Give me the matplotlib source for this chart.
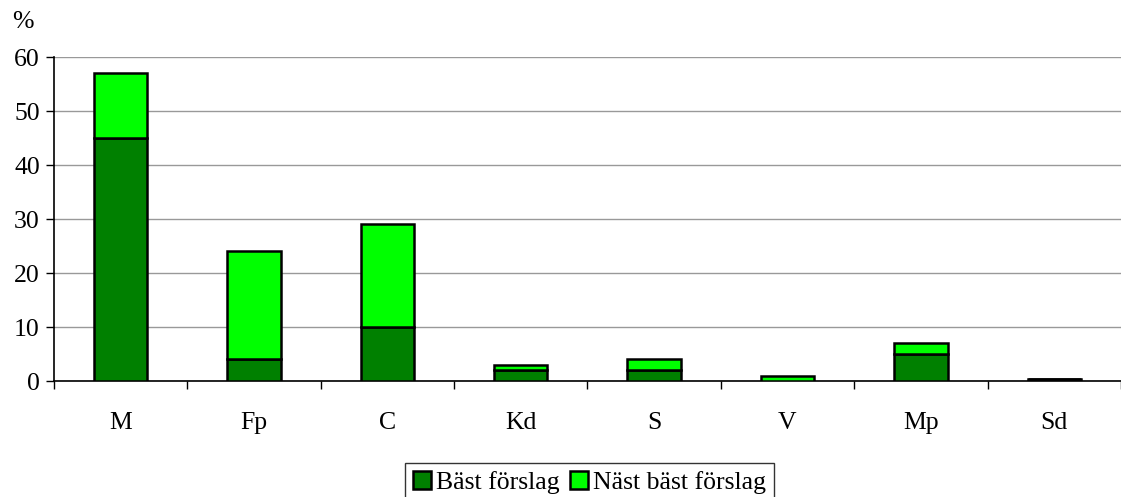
import numpy as np
import matplotlib.pyplot as plt

plt.rcParams["font.family"] = ["Liberation Serif", "DejaVu Serif"]
plt.rcParams["font.size"] = 18.5

categories = ["M", "Fp", "C", "Kd", "S", "V", "Mp", "Sd"]
bast = [45, 4, 10, 2, 2, 0, 5, 0.3]
nast_bast = [12, 20, 19, 1, 2, 1, 2, 0]
yticks = [0, 10, 20, 30, 40, 50, 60]

DARK = "#008000"
LIGHT = "#00ff00"

fig = plt.figure(figsize=(11.21, 4.97), dpi=100)
ax = fig.add_axes([0.048, 0.2334, 0.952, 0.6518])

x = np.arange(len(categories))
ax.bar(x, bast, width=0.4, color=DARK, edgecolor="black", linewidth=1.8,
       label="Bäst förslag", zorder=3)
ax.bar(x, nast_bast, width=0.4, bottom=bast, color=LIGHT, edgecolor="black",
       linewidth=1.8, label="Näst bäst förslag", zorder=3)

ax.set_xlim(-0.5, len(categories) - 0.5)
ax.set_ylim(0, 60)
ax.set_yticks(yticks)
ax.yaxis.grid(True, color="#999999", linewidth=1.0, zorder=0)
ax.set_axisbelow(True)

ax.set_xticks(x)
ax.set_xticklabels(categories)
ax.set_xticks(np.arange(len(categories) + 1) - 0.5, minor=True)
ax.tick_params(axis="x", which="major", length=0, pad=22)
ax.tick_params(axis="x", which="minor", length=6, width=1, direction="out")
ax.tick_params(axis="y", length=6, width=1, direction="out", pad=4)

for side in ["top", "right"]:
    ax.spines[side].set_visible(False)
ax.spines["left"].set_linewidth(1.2)
ax.spines["bottom"].set_linewidth(1.2)

fig.text(0.011, 0.955, "%", fontsize=18.5, ha="left", va="center")

leg = fig.legend(loc="lower center", bbox_to_anchor=(0.526, -0.035), ncol=2,
                 frameon=True, fancybox=False, edgecolor="black",
                 handlelength=0.7, handleheight=0.7, handletextpad=0.2,
                 columnspacing=0.4, borderpad=0.3, fontsize=18.5)
leg.get_frame().set_linewidth(1.0)

fig.savefig("out.png", dpi=100)
